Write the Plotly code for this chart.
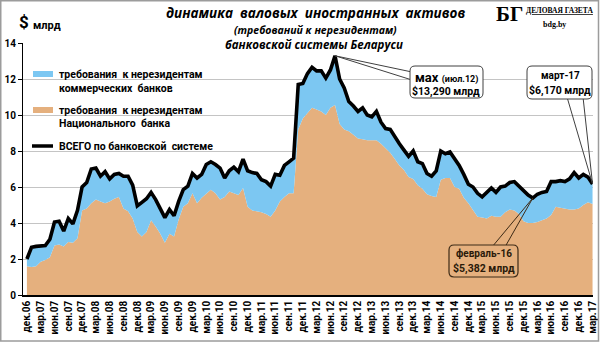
import plotly.graph_objects as go

# ---- data: monthly, Dec 2006 .. Mar 2017, $ bn ----
MONTH_ABBR = ["янв", "фев", "мар", "апр", "май", "июн",
              "июл", "авг", "сен", "окт", "ноя", "дек"]
START_YEAR, START_MONTH = 2006, 12
N_MONTHS = 124

# total gross foreign assets of the banking system
total = [
    2.0, 2.65, 2.7, 2.75, 2.75, 3.1, 4.05, 4.1, 3.55, 4.25, 3.95, 4.7,
    6.0, 6.25, 7.0, 7.05, 6.6, 6.85, 6.45, 6.7, 6.75, 6.6, 6.6, 6.1,
    4.95, 5.15, 5.35, 5.7, 5.3, 4.8, 4.3, 4.75, 4.4, 5.2, 5.85, 6.05,
    6.75, 6.5, 6.7, 7.25, 7.4, 7.25, 7.05, 6.5, 6.9, 7.1, 6.85, 7.55,
    6.9, 6.8, 6.75, 6.4, 6.3, 6.05, 6.7, 6.65, 7.2, 7.4, 7.6, 11.7,
    11.75, 12.3, 12.65, 12.45, 12.45, 12.05, 12.5, 13.29, 12.0, 11.5, 10.75, 10.5,
    10.2, 10.4, 10.0, 9.9, 10.2, 9.6, 9.25, 9.2, 8.75, 8.4, 8.05, 7.7,
    8.0, 7.4, 7.3, 6.75, 6.6, 6.9, 8.0, 7.85, 7.95, 7.55, 7.2, 6.7,
    6.15, 6.0, 5.65, 5.45, 5.7, 5.95, 5.7, 6.0, 6.05, 6.25, 6.3, 6.05,
    5.75, 5.55, 5.382, 5.6, 5.7, 5.75, 6.3, 6.3, 6.35, 6.3, 6.45, 6.8,
    6.5, 6.7, 6.55, 6.17,
]

# claims of the National Bank
national_bank = [
    1.6, 1.55, 1.6, 1.85, 1.95, 2.1, 2.75, 2.8, 2.7, 2.95, 2.9, 3.15,
    4.7, 4.8, 5.1, 5.3, 5.2, 5.1, 5.2, 5.35, 5.45, 4.8, 4.65, 4.25,
    3.5, 3.25, 3.5, 4.15, 3.8, 3.4, 2.9, 3.4, 3.25, 4.2, 4.9, 5.1,
    5.65, 5.1, 5.4, 5.65, 5.85, 5.65, 5.3, 5.45, 5.75, 5.65, 5.55, 5.95,
    4.9, 4.7, 4.65, 4.6, 4.5, 4.35, 4.7, 5.2, 5.45, 5.65, 5.65, 9.2,
    9.8, 10.1, 10.4, 10.3, 10.2, 10.0, 10.4, 10.55, 9.5, 9.2, 9.1, 8.9,
    8.7, 8.65, 8.6, 8.6, 8.6, 8.4, 8.15, 7.9, 7.55, 7.2, 6.95, 6.55,
    6.45, 6.1, 5.9, 5.6, 5.5, 5.45, 6.4, 6.5, 6.5, 6.0, 5.9, 5.4,
    5.1, 4.75, 4.35, 4.3, 4.25, 4.4, 4.35, 4.35, 4.6, 4.75, 4.7, 4.5,
    4.1, 4.0, 4.0, 4.05, 4.15, 4.25, 4.45, 4.9, 4.85, 4.8, 4.75, 4.75,
    4.8, 5.0, 5.15, 5.05,
]

# month labels "дек.06", "янв.07", ...
labels = []
for i in range(N_MONTHS):
    m = (START_MONTH - 1 + i) % 12
    y = START_YEAR + (START_MONTH - 1 + i) // 12
    labels.append(f"{MONTH_ABBR[m]}.{y % 100:02d}")

idx = list(range(N_MONTHS))
tick_vals = idx[::3]
tick_text = labels[::3]
y_ticks = [0, 2, 4, 6, 8, 10, 12, 14]

# callout points
I_MAX = 67   # июл.12
I_MIN = 110  # фев.16
I_LAST = 123 # мар.17

# ---- styling ----
ORANGE = "#E5B07E"
BLUE = "#7CC7F2"
GRID = "#C4C4C4"
FONT = "Roboto"
TITLE_FONT = "Open Sans"
SERIF = "Liberation Serif"

W, H = 600, 343
PL, PR, PT, PB = 23, 593, 43, 295          # plot area in pixels
X_RANGE = [-0.85, 123.1]
Y_RANGE = [0, 14]


def xd(px):
    return X_RANGE[0] + (px - PL) / (PR - PL) * (X_RANGE[1] - X_RANGE[0])


def yd(py):
    return Y_RANGE[0] + (PB - py) / (PB - PT) * (Y_RANGE[1] - Y_RANGE[0])


def xp(px):
    return (px - PL) / (PR - PL)


def yp(py):
    return (PB - py) / (PB - PT)


def rrect_path(x0, y0, x1, y1, r):
    pts = [
        ("M", [(x0 + r, y0)]), ("L", [(x1 - r, y0)]), ("Q", [(x1, y0), (x1, y0 + r)]),
        ("L", [(x1, y1 - r)]), ("Q", [(x1, y1), (x1 - r, y1)]),
        ("L", [(x0 + r, y1)]), ("Q", [(x0, y1), (x0, y1 - r)]),
        ("L", [(x0, y0 + r)]), ("Q", [(x0, y0), (x0 + r, y0)]),
    ]
    s = ""
    for cmd, ps in pts:
        s += cmd + " " + " ".join(f"{xd(a):.4f},{yd(b):.4f}" for a, b in ps) + " "
    return s + "Z"


def wedge_path(p1, tip, p2):
    return (f"M {xd(p1[0]):.4f},{yd(p1[1]):.4f} L {tip[0]},{tip[1]} "
            f"L {xd(p2[0]):.4f},{yd(p2[1]):.4f}")


def ann(text, x, y, size, xanchor="center", family=FONT, color="black", **kw):
    d = dict(text=text, x=xp(x), y=yp(y), xref="paper", yref="paper",
             showarrow=False, xanchor=xanchor, yanchor="middle",
             font=dict(family=family, size=size, color=color))
    d.update(kw)
    return d


fig = go.Figure()
fig.add_trace(go.Scatter(
    x=idx, y=national_bank, mode="lines", line=dict(width=0, color=ORANGE),
    fill="tozeroy", fillcolor=ORANGE, name="НБ", showlegend=False,
    hoverinfo="skip"))
fig.add_trace(go.Scatter(
    x=idx, y=total, mode="lines", line=dict(width=0, color=BLUE),
    fill="tonexty", fillcolor=BLUE, name="коммерческие банки",
    showlegend=False, hoverinfo="skip"))
fig.add_trace(go.Scatter(
    x=idx, y=total, mode="lines", line=dict(width=3.6, color="black"),
    name="ВСЕГО", showlegend=False))

shapes = []
# white backing behind the title
shapes.append(dict(type="rect", xref="paper", yref="paper",
                   x0=xp(163), x1=xp(468), y0=yp(52), y1=yp(36),
                   fillcolor="white", line=dict(width=0), layer="above"))

# callout: maximum
tip_max = (I_MAX, total[I_MAX])
shapes.append(dict(type="path", xref="x", yref="y",
                   path=wedge_path((412, 72), tip_max, (412, 80)),
                   line=dict(color="#404040", width=1), fillcolor="white",
                   layer="above"))
shapes.append(dict(type="path", xref="x", yref="y",
                   path=rrect_path(410, 66, 483, 98, 5),
                   line=dict(color="#404040", width=1), fillcolor="white",
                   layer="above"))

# callout: last point
tip_last = (I_LAST, total[I_LAST])
shapes.append(dict(type="path", xref="x", yref="y",
                   path=wedge_path((567, 97), tip_last, (583, 97)),
                   line=dict(color="#404040", width=1), fillcolor="rgba(0,0,0,0)",
                   layer="above"))
shapes.append(dict(type="path", xref="x", yref="y",
                   path=rrect_path(527, 66, 592, 99, 5),
                   line=dict(color="#404040", width=1), fillcolor="white",
                   layer="above"))

# callout: Feb 2016 minimum
tip_min = (I_MIN, total[I_MIN])
shapes.append(dict(type="path", xref="x", yref="y",
                   path=wedge_path((492, 247), tip_min, (505, 247)),
                   line=dict(color="#3d2a16", width=1), fillcolor="rgba(0,0,0,0)",
                   layer="above"))
shapes.append(dict(type="path", xref="x", yref="y",
                   path=rrect_path(449, 245, 518, 277, 5),
                   line=dict(color="#3d2a16", width=1.2), fillcolor=ORANGE,
                   layer="above"))

# legend keys
shapes.append(dict(type="rect", xref="paper", yref="paper",
                   x0=xp(33), x1=xp(53), y0=yp(77), y1=yp(71),
                   fillcolor=BLUE, line=dict(width=0), layer="above"))
shapes.append(dict(type="rect", xref="paper", yref="paper",
                   x0=xp(33), x1=xp(53), y0=yp(113), y1=yp(107),
                   fillcolor=ORANGE, line=dict(width=0), layer="above"))
shapes.append(dict(type="line", xref="paper", yref="paper",
                   x0=xp(32), x1=xp(53), y0=yp(146), y1=yp(146),
                   line=dict(color="black", width=3.5), layer="above"))

# outer frame
shapes.append(dict(type="rect", xref="paper", yref="paper",
                   x0=xp(0.75), x1=xp(598.5), y0=yp(341), y1=yp(0.75),
                   line=dict(color="#9C9C9C", width=1.5), fillcolor="rgba(0,0,0,0)",
                   layer="above"))

annotations = [
    # title
    ann("<b><i>динамика  валовых  иностранных  активов</i></b>", 315, 13, 13.5,
        family=TITLE_FONT),
    ann("<b><i>(требований к нерезидентам)</i></b>", 315, 30, 10.5,
        family=TITLE_FONT),
    ann("<b><i>банковской системы Беларуси</i></b>", 314, 45, 11.5,
        family=TITLE_FONT),
    # units
    ann("<b>$</b>", 17, 22, 17, xanchor="left"),
    ann("<b>млрд</b>", 31, 25, 11, xanchor="left"),
    # masthead
    ann("<b>БГ</b>", 509, 14, 21, family=SERIF),
    ann("<b>ДЕЛОВАЯ ГАЗЕТА</b>", 559, 10, 7.5, family=SERIF),
    ann("<b>bdg.by</b>", 554, 24, 8, family=SERIF),
    # legend
    ann("<b>требования  к нерезидентам</b>", 57, 74, 10.5, xanchor="left"),
    ann("<b>коммерческих  банков</b>", 57, 88, 10.5, xanchor="left"),
    ann("<b>требования  к нерезидентам</b>", 57, 110, 10.5, xanchor="left"),
    ann("<b>Национального  банка</b>", 57, 124, 10.5, xanchor="left"),
    ann("<b>ВСЕГО по банковской  системе</b>", 57, 146, 10.5, xanchor="left"),
    # callouts
    ann("<b>мах</b> <b><span style='font-size:9px'>(июл.12)</span></b>", 446, 77, 13),
    ann(f"<b>${total[I_MAX]:,.3f} млрд</b>".replace(".", ","), 446, 91, 10.5),
    ann("<b>март-17</b>", 560, 75, 10),
    ann(f"<b>${total[I_LAST]:.3f} млрд</b>".replace(".", ","), 560, 90, 10.5),
    ann("<b>февраль-16</b>", 484, 253, 10, color="#2a1a0a"),
    ann(f"<b>${total[I_MIN]:.3f} млрд</b>".replace(".", ","), 484, 268, 10.5,
        color="#2a1a0a"),
]

# the masthead's name line is underlined
annotations[6]["font"]["lineposition"] = "under"

fig.update_layout(
    width=W, height=H,
    margin=dict(l=PL, r=W - PR, t=PT, b=H - PB, pad=0),
    paper_bgcolor="white", plot_bgcolor="white",
    shapes=shapes, annotations=annotations,
    xaxis=dict(
        range=X_RANGE, tickmode="array", tickvals=tick_vals, ticktext=tick_text,
        tickangle=-90, tickfont=dict(family=FONT, size=10, color="black", weight="bold"),
        showgrid=False, zeroline=False, showline=True, linecolor="black",
        linewidth=1.5, ticks="", automargin=False, fixedrange=True,
    ),
    yaxis=dict(
        range=Y_RANGE, tickmode="array", tickvals=y_ticks,
        tickfont=dict(family=FONT, size=10, color="black", weight="bold"),
        showgrid=True, gridcolor=GRID, gridwidth=1, zeroline=False,
        showline=True, linecolor="black", linewidth=1.2,
        ticks="outside", ticklen=4, tickcolor="black", automargin=False,
        fixedrange=True,
    ),
    showlegend=False,
)

fig.write_html("out.html")
